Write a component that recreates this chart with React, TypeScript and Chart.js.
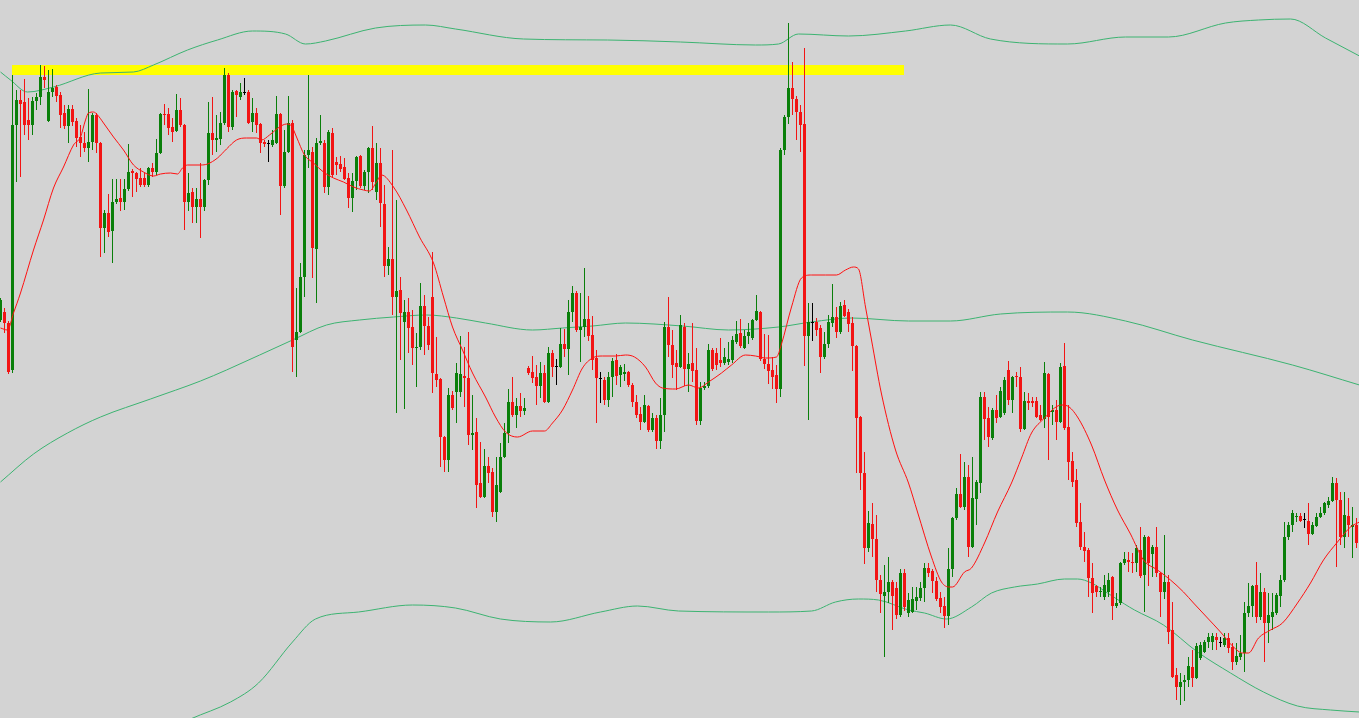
import React, { useEffect, useRef } from "react";
import { Chart, registerables } from "chart.js";

Chart.register(...registerables);

const W = 1359;
const H = 718;
const HOURS_PER_BAR = 4;

const BG = "#d3d3d3";
const BULL = "#0a7f0a";
const BEAR = "#f21414";
const DOJI = "#000000";
const MA_COLOR = "#ff1010";
const BAND_COLOR = "#3cb371";
const LEVEL_COLOR = "#ffff00";

// OHLC values in points, one entry per 4-hour bar
const opens = [
  398,406,395,348,593,618,616,598,593,617, 621,641,597,626,631,623,605,592,609,597,
  581,575,570,576,603,575,490,505,487,516, 520,516,529,547,545,540,540,533,550,546,
  565,604,604,591,587,608,593,516,526,511, 519,511,538,585,578,579,595,643,591,627,
  621,625,626,596,605,594,576,574,573,575, 604,532,566,595,378,386,441,563,566,469,
  575,575,531,585,556,554,551,540,520,537, 562,532,546,570,526,555,514,452,459,421,
  428,396,406,391,370,371,412,392,421,344, 339,281,258,323,326,326,342,340,283,286,
  235,221,252,246,206,226,261,285,316,303, 312,307,350,346,341,332,345,316,365,351,
  351,374,369,406,425,388,391,399,383,360, 339,338,318,341,358,343,344,346,333,316,
  304,296,312,288,300,277,303,391,373,355, 351,391,349,355,348,297,330,332,368,365,
  358,355,356,358,376,385,370,382,380,398, 406,359,354,348,343,329,568,601,630,619,
  606,594,382,395,396,390,361,374,395,401, 386,413,406,395,372,301,245,170,194,179,
  138,122,126,136,130,103,145,105,106,117, 120,130,150,147,137,120,112,102,149,200,
  224,211,241,171,219,235,321,300,280,308, 301,305,348,318,342,341,289,317,317,317,
  303,299,344,306,308,296,352,291,257,238, 196,171,168,140,132,126,121,126,141,112,
  115,155,158,156,155,168,143,181,164,171, 145,126,136,88,43,31,36,38,51,40,
  60,66,76,76,81,75,73,80,71,56, 61,65,105,112,133,101,126,95,101,105,
  122,138,181,193,201,202,198,197,184,192, 201,205,213,217,235,218,181,202,191,193,
];
const highs = [
  420,410,397,643,628,628,639,620,621,625, 653,652,648,649,633,626,613,613,613,600,
  593,586,629,605,605,576,508,524,539,539, 539,539,574,549,546,550,545,551,555,579,
  605,614,610,600,624,620,594,545,530,530, 555,539,616,621,603,606,650,645,628,628,
  635,640,628,620,610,595,578,578,588,622, 605,588,622,598,430,455,568,643,571,580,
  603,578,588,590,561,562,560,545,545,562, 563,548,571,592,575,570,533,471,568,518,
  441,418,420,408,385,435,423,401,466,381, 340,282,330,327,355,382,371,386,323,300,
  276,269,261,250,261,275,295,329,341,320, 325,320,352,362,353,356,353,371,368,359,
  390,389,418,432,427,425,450,422,402,368, 346,341,346,360,364,353,354,347,335,323,
  311,323,313,305,303,320,396,421,388,368, 403,395,365,395,370,336,336,374,370,370,
  380,370,376,382,397,399,388,395,399,423, 407,384,383,361,353,570,603,695,656,622,
  613,670,415,415,400,393,386,403,434,411, 416,418,409,401,373,302,266,207,215,203,
  143,153,161,138,136,149,149,125,131,131, 136,155,155,149,141,126,121,170,201,230,
  264,256,253,261,238,326,326,311,310,323, 331,341,357,342,346,351,326,325,321,321,
  313,356,345,313,318,355,375,313,266,249, 215,186,170,155,133,131,143,145,142,125,
  156,166,166,165,173,191,183,182,173,191, 146,183,143,116,50,45,43,61,68,75,
  76,78,85,85,85,81,85,85,75,75, 83,116,135,133,156,145,130,125,125,125,
  143,196,196,208,205,205,205,215,196,205, 211,216,221,241,240,226,226,220,211,200,
];
const lows = [
  396,385,344,345,536,541,583,578,583,608, 613,630,596,621,616,590,589,575,592,571,
  561,566,556,568,565,461,465,481,455,514, 507,508,527,521,526,531,531,531,541,543,
  564,593,583,576,586,591,488,507,495,495, 480,507,533,563,566,573,593,586,588,601,
  618,623,594,586,585,565,571,556,571,574, 503,530,565,346,341,385,421,550,440,415,
  573,525,523,541,543,546,538,510,506,528, 530,528,525,528,518,491,441,443,403,305,
  358,309,365,353,331,368,363,368,325,331, 251,246,246,308,295,321,311,273,268,210,
  220,220,235,201,196,225,260,275,301,290, 301,303,343,335,313,320,315,315,341,333,
  350,361,343,396,386,356,381,377,348,295, 315,313,311,321,333,331,337,331,311,300,
  288,295,286,286,269,269,286,361,340,328, 350,332,326,336,293,293,328,330,347,348,
  351,353,353,355,374,370,369,374,378,397, 357,349,334,329,315,321,563,594,603,578,
  566,352,298,377,382,345,359,370,391,380, 384,401,386,347,245,228,154,166,161,126,
  105,61,115,88,99,101,107,101,105,108, 117,116,141,125,117,105,90,93,141,198,
  210,208,161,170,193,225,278,271,278,295, 300,303,313,305,331,286,288,308,311,300,
  297,290,258,293,278,295,288,238,231,191, 168,156,121,105,121,121,118,121,98,110,
  113,153,146,145,146,140,106,132,141,141, 101,119,74,40,18,13,17,31,31,39,
  58,65,70,68,68,71,71,65,48,53, 58,46,101,101,95,98,56,75,88,103,
  111,136,178,186,196,196,190,173,183,191, 200,203,210,216,151,173,170,181,160,170,
];
const closes = [
  418,395,346,593,618,614,593,593,617,621, 641,638,626,630,622,603,592,609,596,580,
  575,570,576,603,575,490,505,486,516,519, 516,529,546,545,539,533,533,550,546,565,
  604,603,590,586,608,593,516,525,511,519, 511,538,585,578,580,595,643,591,626,623,
  626,625,595,605,593,575,574,574,578,604, 532,566,595,371,386,441,563,568,470,575,
  577,531,586,543,553,549,539,520,537,561, 532,546,570,536,555,515,452,459,421,427,
  405,406,390,370,371,412,392,373,345,338, 281,258,323,310,345,344,340,283,285,233,
  221,252,245,206,233,261,285,316,303,312, 307,310,345,340,332,345,316,365,351,351,
  374,369,406,425,388,391,399,382,358,340, 339,318,341,357,342,351,346,333,316,303,
  296,313,288,300,277,303,391,373,353,351, 393,349,354,347,297,330,332,368,349,353,
  355,361,359,378,384,372,382,386,398,407, 359,354,347,341,329,568,601,630,619,606,
  593,382,396,395,388,361,374,396,401,386, 412,402,394,372,300,245,170,195,179,138,
  124,126,136,122,103,145,111,118,119,121, 130,150,145,137,119,111,102,149,200,224,
  211,241,171,220,236,321,299,281,308,300, 327,338,318,341,341,289,317,315,315,301,
  298,345,301,308,296,351,290,256,236,195, 171,167,140,125,126,127,133,138,112,115,
  155,159,156,155,170,142,181,155,171,145, 126,136,86,41,31,36,38,52,40,72,
  73,76,81,82,78,75,80,70,56,62, 65,105,112,132,101,126,95,103,106,123,
  138,181,193,205,202,197,198,184,193,201, 205,215,217,235,218,181,203,193,193,175,
];

// Moving average, read as [hour, value]
const maPoints = [
  [0,390],[7,388],[13,405],[20,425],[33,468],[43,498],[53,530],[63,551],[73,573],[80,581],
  [85,598],[88,605],[93,606],[97,603],[103,595],[113,581],[123,568],[133,553],[143,546],[153,542],
  [160,544],[170,545],[177,544],[182,550],[187,553],[200,553],[207,554],[217,560],[226,569],[236,578],
  [246,580],[256,580],[261,578],[269,583],[279,591],[286,594],[291,592],[296,581],[304,563],[313,555],
  [323,546],[333,540],[343,536],[353,531],[363,528],[369,527],[376,536],[381,543],[393,531],[406,508],
  [419,481],[433,455],[443,421],[452,391],[462,368],[472,345],[485,321],[495,301],[505,286],[517,281],
  [532,287],[544,287],[552,295],[562,308],[572,328],[582,350],[592,360],[602,362],[615,362],[625,363],
  [634,361],[645,351],[655,335],[662,330],[675,329],[688,333],[698,330],[708,336],[721,345],[731,353],
  [745,363],[755,362],[765,360],[776,361],[781,374],[791,411],[801,440],[811,443],[825,443],[836,443],
  [845,448],[853,451],[858,449],[865,411],[871,378],[881,324],[895,268],[908,235],[917,206],[931,161],
  [941,136],[949,131],[952,131],[964,146],[971,150],[984,175],[997,206],[1011,235],[1021,260],[1031,285],
  [1044,300],[1054,310],[1061,313],[1067,312],[1077,301],[1091,273],[1104,238],[1117,208],[1130,184],[1143,158],
  [1157,148],[1170,138],[1183,126],[1193,115],[1207,100],[1220,86],[1233,71],[1242,65],[1248,65],[1258,80],
  [1270,88],[1282,95],[1297,115],[1310,135],[1323,158],[1337,176],[1350,191],[1359,196],
];

// Envelope bands, read as [hour, value]
const upperBand = [
  [0,646],[10,638],[27,626],[53,631],[100,645],[133,646],[153,653],[187,668],[217,678],[252,687],
  [285,684],[305,674],[325,677],[375,690],[425,693],[455,689],[523,679],[607,678],[680,676],[755,673],
  [778,674],[798,684],[848,682],[905,687],[950,693],[990,679],[1067,674],[1125,681],[1168,681],[1225,695],
  [1258,698],[1290,699],[1325,680],[1359,662],
];
const middleBand = [
  [0,236],[33,264],[67,285],[100,301],[150,319],[200,337],[226,348],[292,378],[326,393],[359,398],
  [393,401],[426,403],[456,400],[485,395],[532,388],[562,390],[592,392],[625,395],[682,392],[728,388],
  [778,391],[811,396],[851,400],[908,397],[950,397],[1000,404],[1067,406],[1125,397],[1192,378],[1292,353],
  [1359,333],
];
const lowerBand = [
  [140,-25],[190,-1],[230,16],[258,35],[292,76],[315,99],[358,106],[412,113],[455,110],[500,99],
  [550,96],[600,106],[637,112],[678,107],[768,106],[811,107],[835,116],[858,119],[878,118],[908,108],
  [924,105],[946,99],[971,111],[991,125],[1014,131],[1037,134],[1064,139],[1077,139],[1091,135],[1107,125],
  [1124,114],[1134,108],[1163,93],[1197,66],[1230,45],[1263,26],[1297,12],[1330,8],[1359,6],
];

// Horizontal resistance level
const levelValue = 648;
const levelStartHour = 11.5;
const levelEndHour = 903.5;

const toXY = (pts: number[][]) => pts.map(([x, y]) => ({ x, y }));

export default function App() {
  const ref = useRef<HTMLCanvasElement>(null);

  useEffect(() => {
    document.body.style.margin = "0";
    const hours = opens.map((_, i) => i * HOURS_PER_BAR);
    const colors = opens.map((o, i) =>
      o === closes[i] ? DOJI : closes[i] > o ? BULL : BEAR
    );
    const lineBase = {
      type: "line" as const,
      pointRadius: 0,
      borderWidth: 1,
      fill: false,
      cubicInterpolationMode: "monotone" as const,
    };
    const chart = new Chart(ref.current as HTMLCanvasElement, {
      type: "bar",
      data: {
        datasets: [
          {
            type: "line",
            data: [
              { x: levelStartHour, y: levelValue },
              { x: levelEndHour, y: levelValue },
            ],
            borderColor: LEVEL_COLOR,
            borderWidth: 10,
            borderCapStyle: "butt",
            pointRadius: 0,
            order: 7,
          } as any,
          { ...lineBase, data: toXY(upperBand), borderColor: BAND_COLOR, order: 6 } as any,
          { ...lineBase, data: toXY(middleBand), borderColor: BAND_COLOR, order: 5 } as any,
          { ...lineBase, data: toXY(lowerBand), borderColor: BAND_COLOR, order: 4 } as any,
          {
            type: "bar",
            data: hours.map((h, i) => ({ x: h, y: [lows[i], highs[i]] })),
            backgroundColor: colors,
            barThickness: 1,
            grouped: false,
            inflateAmount: 0,
            borderWidth: 0,
            order: 3,
          } as any,
          {
            type: "bar",
            data: hours.map((h, i) => ({ x: h, y: [opens[i], closes[i]] })),
            backgroundColor: colors,
            barThickness: 3,
            grouped: false,
            inflateAmount: 0,
            minBarLength: 1,
            borderWidth: 0,
            order: 2,
          } as any,
          { ...lineBase, data: toXY(maPoints), borderColor: MA_COLOR, order: 1 } as any,
        ],
      },
      options: {
        animation: false,
        responsive: false,
        devicePixelRatio: 1,
        events: [],
        layout: { padding: 0 },
        plugins: { legend: { display: false }, tooltip: { enabled: false } },
        scales: {
          x: { type: "linear", display: false, min: -0.5, max: W - 0.5, offset: false },
          y: { type: "linear", display: false, min: 0, max: H },
        },
      } as any,
    });
    return () => chart.destroy();
  }, []);

  return (
    <div style={{ position: "absolute", left: 0, top: 0, width: W, height: H, background: BG }}>
      <canvas ref={ref} width={W} height={H} style={{ display: "block" }} />
    </div>
  );
}
